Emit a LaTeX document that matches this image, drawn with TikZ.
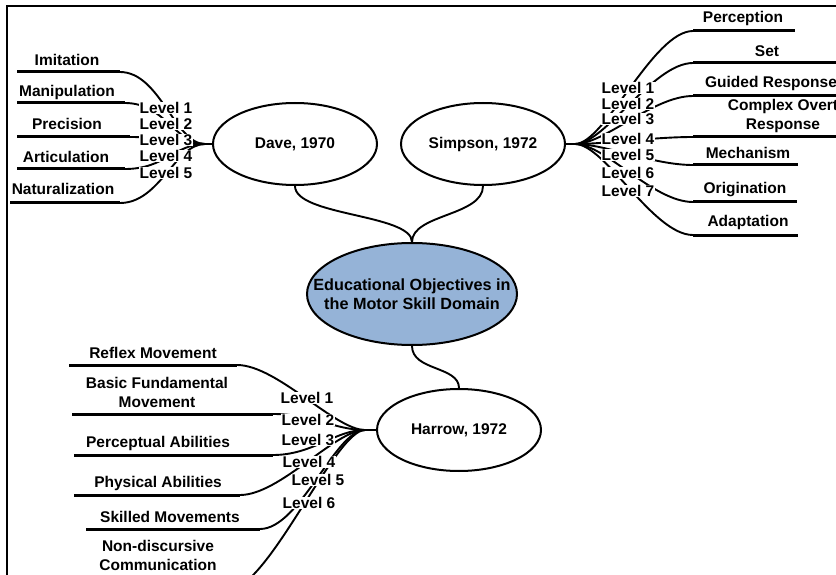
\documentclass[tikz,border=0pt]{standalone}
\usepackage{fontspec}
\setmainfont{Liberation Sans}
\usetikzlibrary{shapes.geometric}
\definecolor{topicblue}{RGB}{149,179,215}
\begin{document}
\begin{tikzpicture}[x=1pt,y=-1pt,
  every node/.style={font=\bfseries\fontsize{15.5}{19}\selectfont},
  topic/.style={draw, ellipse, line width=2pt, minimum width=164pt, minimum height=82pt, inner sep=0pt, align=center},
  link/.style={line width=1.9pt},
  under/.style={line width=3pt},
  leaf/.style={inner sep=0pt, align=center},
  lvl/.style={fill=white, inner sep=0.3pt}]
\useasboundingbox (0,0) rectangle (836,575);

% frame
\coordinate (fb) at (7,580);
\coordinate (fc) at (7,6);
\coordinate (fr) at (840,6);
\draw[line width=2pt] (fb) -- (fc) -- (fr);

% main topics (zero-width text boxes keep the ellipses at their set size)
\node[topic, fill=topicblue, minimum width=210pt, minimum height=102pt,
      font=\bfseries\fontsize{16.2}{19}\selectfont] (edu) at (412,294)
  {\makebox[0pt]{Educational Objectives in}\\\makebox[0pt]{the Motor Skill Domain}};
\node[topic] (dave) at (295,144) {\makebox[0pt]{Dave, 1970}};
\node[topic] (simp) at (483,144) {\makebox[0pt]{Simpson, 1972}};
\node[topic] (harr) at (459,430) {\makebox[0pt]{Harrow, 1972}};

\draw[link] (dave.south) .. controls +(0,30) and +(0,-28) .. (edu.north);
\draw[link] (simp.south) .. controls +(0,30) and +(0,-28) .. (edu.north);
\draw[link] (edu.south) .. controls +(0,25) and +(0,-22) .. (harr.north);

% Dave, 1970
\coordinate (dj) at (205,144);
\draw[link] (dj) -- (dave.west);
\foreach \n/\txt/\tx/\ty/\xa/\xb/\ly in {
  imi/Imitation/67/60/17/120/72,
  man/Manipulation/67/92/17/125/103,
  pre/Precision/67/124/17/130/137,
  art/Articulation/66/157/17/125/169,
  nat/Naturalization/63/189/10/120/203}{
  \node[leaf] (\n) at (\tx,\ty) {\txt};
  \coordinate (\n-a) at (\xa,\ly);
  \coordinate (\n-b) at (\xb,\ly);
  \draw[under] (\n-a) -- (\n-b);
  \draw[link] (\n-b) .. controls +(40,0) and +(-30,0) .. (dj);
}
\foreach \i/\y in {1/108,2/124,3/140,4/156,5/173}
  \node[lvl] (dl\i) at (166,\y) {Level \i};

% Simpson, 1972
\coordinate (sj) at (575,144);
\draw[link] (simp.east) -- (sj);
\foreach \n/\txt/\tx/\ty/\xa/\xb/\ly in {
  per/Perception/743/18/693/795/31,
  set/Set/767/51/693/840/63,
  gui/Guided Response/771/83/693/840/96,
  com/{Complex Overt\\Response}/783/115.5/693/840/137,
  mec/Mechanism/748/153/693/798/165,
  ori/Origination/745/190/693/797/202,
  ada/Adaptation/748/222/693/798/235}{
  \node[leaf] (\n) at (\tx,\ty) {\txt};
  \coordinate (\n-a) at (\xa,\ly);
  \coordinate (\n-b) at (\xb,\ly);
  \draw[under] (\n-a) -- (\n-b);
  \draw[link] (sj) .. controls +(30,0) and +(-40,0) .. (\n-a);
}
\foreach \i/\y in {1/88,2/104,3/119,4/139,5/155,6/173,7/191}
  \node[lvl] (sl\i) at (628,\y) {Level \i};

% Harrow, 1972
\coordinate (hj) at (365,430);
\draw[link] (hj) -- (harr.west);
\foreach \n/\txt/\tx/\ty/\xa/\xb/\ly in {
  ref/Reflex Movement/153/353/69/237/365,
  bas/{Basic Fundamental\\Movement}/157/392.5/72/273/414,
  pcp/Perceptual Abilities/158/443/74/273/455,
  phy/Physical Abilities/158/483/74/240/495,
  ski/Skilled Movements/170/517/86/260/529,
  non/{Non-discursive\\Communication}/158/555.5/80/228/590}{
  \node[leaf] (\n) at (\tx,\ty) {\txt};
  \coordinate (\n-a) at (\xa,\ly);
  \coordinate (\n-b) at (\xb,\ly);
  \draw[under] (\n-a) -- (\n-b);
  \draw[link] (\n-b) .. controls +(40,0) and +(-30,0) .. (hj);
}
\foreach \i/\x/\y in {1/307/398,2/308/420,3/308/440,4/309/462,5/318/480,6/309/503}
  \node[lvl] (hl\i) at (\x,\y) {Level \i};
\end{tikzpicture}
\end{document}
